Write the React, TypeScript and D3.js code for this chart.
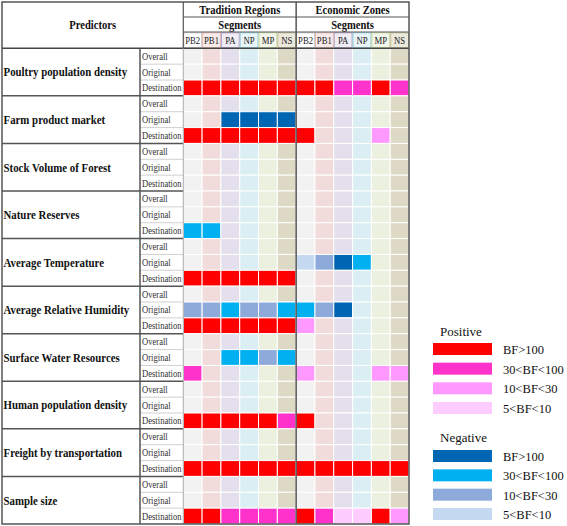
import React from "react";
import * as d3 from "d3";

const predictors = [
  "Poultry population density",
  "Farm product market",
  "Stock Volume of Forest",
  "Nature Reserves",
  "Average Temperature",
  "Average Relative Humidity",
  "Surface Water Resources",
  "Human population density",
  "Freight by transportation",
  "Sample size",
];
const subRows = ["Overall", "Original", "Destination"];
const groups = ["Tradition Regions", "Economic Zones"];
const segments = ["PB2", "PB1", "PA", "NP", "MP", "NS"];

// codes: 4..1 positive (BF>100, 30-100, 10-30, 5-10), -4..-1 negative, 0 none
// each predictor: [overall, original, destination], each 12 values (TR x6, EZ x6)
const z = [0, 0, 0, 0, 0, 0, 0, 0, 0, 0, 0, 0];
const cellData: number[][][] = [
  [z, z, [4, 4, 4, 4, 4, 4, 4, 4, 3, 3, 4, 3]],
  [z, [0, 0, -4, -4, -4, -4, 0, 0, 0, 0, 0, 0], [4, 4, 4, 4, 4, 4, 4, 0, 0, 0, 2, 0]],
  [z, z, z],
  [z, z, [-3, -3, 0, 0, 0, 0, 0, 0, 0, 0, 0, 0]],
  [z, [0, 0, 0, 0, 0, 0, -1, -2, -4, -3, 0, 0], [4, 4, 4, 4, 4, 4, 0, 0, 0, 0, 0, 0]],
  [z, [-2, -2, -3, -2, -2, -3, -3, -2, -4, 0, 0, 0], [4, 4, 4, 4, 4, 4, 2, 0, 0, 0, 0, 0]],
  [z, [0, 0, -3, -3, -2, -3, 0, 0, 0, 0, 0, 0], [3, 0, 0, 0, 0, 0, 2, 0, 0, 0, 2, 2]],
  [z, z, [4, 4, 4, 4, 4, 3, 4, 0, 0, 0, 0, 0]],
  [z, z, [4, 4, 4, 4, 4, 4, 4, 4, 4, 4, 4, 4]],
  [z, z, [4, 4, 3, 3, 3, 3, 4, 3, 1, 1, 4, 2]],
];

const positiveLabels = ["BF>100", "30<BF<100", "10<BF<30", "5<BF<10"];
const negativeLabels = ["BF>100", "30<BF<100", "10<BF<30", "5<BF<10"];

const segBg = ["#f2f2f2", "#f2dcdb", "#e4dfec", "#dbeef4", "#ebf1de", "#ddd9c4"];
const segBorder = ["#c8c8c8", "#e6b8b7", "#b1a0c7", "#92cddc", "#c4d79b", "#c4bd97"];
const posColors: Record<number, string> = { 4: "#ff0000", 3: "#ff33cc", 2: "#ff99ff", 1: "#ffccff" };
const negColors: Record<number, string> = { 4: "#0066b3", 3: "#00b0f0", 2: "#8eaadb", 1: "#c5d9f1" };

const W = 567;
const H = 526;
const L = 2;
const R = 409;
const T = 2;
const hdr1 = 17;
const hdr2 = 32;
const dataTop = 48.3;
const B = 524;
const colSub = 140;
const colData = 183.3;

const serif = "'Liberation Serif', 'Times New Roman', serif";

type STProps = {
  x: number;
  y: number;
  sx: number;
  size: number;
  bold?: boolean;
  anchor?: "start" | "middle" | "end";
  fill?: string;
  children: React.ReactNode;
};

function SText({ x, y, sx, size, bold, anchor = "start", fill = "#111", children }: STProps) {
  return (
    <g transform={`translate(${x},${y}) scale(${sx},1)`}>
      <text x={0} y={0} fontSize={size} fontWeight={bold ? "bold" : "normal"} textAnchor={anchor} fill={fill}>
        {children}
      </text>
    </g>
  );
}

export default function App() {
  const nCols = groups.length * segments.length;
  const x = d3.scaleBand<number>().domain(d3.range(nCols)).range([colData, R]);
  const nRows = predictors.length * subRows.length;
  const y = d3.scaleBand<number>().domain(d3.range(nRows)).range([dataTop, B]);
  const blockH = (B - dataTop) / predictors.length;
  const mid = x(segments.length)!;

  const cells: React.ReactNode[] = [];
  cellData.forEach((block, pi) =>
    block.forEach((row, si) =>
      row.forEach((v, ci) => {
        const r = pi * 3 + si;
        const fill = v > 0 ? posColors[v] : v < 0 ? negColors[-v] : segBg[ci % 6];
        cells.push(
          <rect
            key={`c${pi}-${si}-${ci}`}
            x={x(ci)!}
            y={y(r)!}
            width={x.bandwidth()}
            height={y.bandwidth()}
            fill={fill}
            stroke="#ffffff"
            strokeWidth={1}
          />
        );
      })
    )
  );

  const legendSw = 59;
  const legendX = 433;
  const posY = d3.scaleLinear().domain([0, 3]).range([343, 402]);
  const negY = d3.scaleLinear().domain([0, 3]).range([450, 508]);

  return (
    <svg width={W} height={H} style={{ display: "block", position: "absolute", left: 0, top: 0 }} fontFamily={serif}>
      <rect x={0} y={0} width={W} height={H} fill="#ffffff" />
      {/* header label cells */}
      {d3.range(nCols).map((ci) => (
        <g key={`h${ci}`}>
          <rect
            x={x(ci)! + 0.5}
            y={hdr2 + 0.8}
            width={x.bandwidth() - 1}
            height={dataTop - hdr2 - 1.6}
            fill={ci % 6 === 0 ? "#ffffff" : segBg[ci % 6]}
            fillOpacity={0.6}
            stroke={segBorder[ci % 6]}
            strokeWidth={1}
          />
          <SText x={x(ci)! + x.bandwidth() / 2} y={(hdr2 + dataTop) / 2 + 3.8} sx={0.83} size={10.5} anchor="middle" fill="#222">
            {segments[ci % 6]}
          </SText>
        </g>
      ))}
      {cells}

      {/* header texts */}
      <SText x={(L + colData) / 2} y={29} sx={0.88} size={12} bold anchor="middle">
        Predictors
      </SText>
      {groups.map((g, gi) => {
        const x0 = x(gi * 6)!;
        const x1 = gi === 0 ? mid : R;
        return (
          <g key={g}>
            <SText x={(x0 + x1) / 2} y={13.5} sx={0.88} size={12} bold anchor="middle">
              {g}
            </SText>
            <SText x={(x0 + x1) / 2} y={28.5} sx={0.88} size={12} bold anchor="middle">
              Segments
            </SText>
          </g>
        );
      })}

      {/* predictor labels */}
      {predictors.map((p, pi) => (
        <g key={p}>
          <SText x={L + 1.5} y={dataTop + pi * blockH + blockH / 2 + 4.3} sx={0.92} size={11.8} bold>
            {p}
          </SText>
          {subRows.map((s, si) => (
            <SText
              key={s}
              x={colSub + 2}
              y={y(pi * 3 + si)! + y.bandwidth() / 2 + 3.5}
              sx={0.86}
              size={10}
              fill="#333"
            >
              {s}
            </SText>
          ))}
        </g>
      ))}

      {/* sub row separators */}
      {d3.range(nRows).map((r) =>
        r % 3 !== 0 ? (
          <line key={`sr${r}`} x1={colSub} x2={colData} y1={y(r)!} y2={y(r)!} stroke="#d0d0d0" strokeWidth={1} />
        ) : null
      )}
      {/* block separators */}
      {d3.range(1, predictors.length).map((k) => (
        <line
          key={`bs${k}`}
          x1={L}
          x2={colData}
          y1={dataTop + k * blockH}
          y2={dataTop + k * blockH}
          stroke="#555"
          strokeWidth={1.5}
        />
      ))}
      {/* header lines */}
      <line x1={colData} x2={R} y1={hdr1} y2={hdr1} stroke="#555" strokeWidth={1} />
      <line x1={colData} x2={R} y1={hdr2} y2={hdr2} stroke="#555" strokeWidth={1} />
      <line x1={L} x2={R} y1={dataTop} y2={dataTop} stroke="#444" strokeWidth={1.5} />
      {/* vertical lines */}
      <line x1={colSub} x2={colSub} y1={dataTop} y2={B} stroke="#555" strokeWidth={1.5} />
      <line x1={colData} x2={colData} y1={T} y2={dataTop} stroke="#555" strokeWidth={1.2} />
      <line x1={colData} x2={colData} y1={dataTop} y2={B} stroke="#aaa" strokeWidth={1} />
      <line x1={mid} x2={mid} y1={T} y2={B} stroke="#555" strokeWidth={1.5} />
      <rect x={L} y={T} width={R - L} height={B - T} fill="none" stroke="#555" strokeWidth={1.5} />

      {/* legend */}
      <text x={440} y={336} fontSize={13} fill="#111">
        Positive
      </text>
      {positiveLabels.map((lab, i) => (
        <g key={`p${i}`}>
          <rect x={legendX} y={posY(i)} width={legendSw} height={12} fill={posColors[4 - i]} />
          <text x={503} y={posY(i) + 11} fontSize={12.5} fill="#111">
            {lab}
          </text>
        </g>
      ))}
      <text x={440} y={442} fontSize={13} fill="#111">
        Negative
      </text>
      {negativeLabels.map((lab, i) => (
        <g key={`n${i}`}>
          <rect x={legendX} y={negY(i)} width={legendSw} height={12} fill={negColors[4 - i]} />
          <text x={503} y={negY(i) + 11} fontSize={12.5} fill="#111">
            {lab}
          </text>
        </g>
      ))}
    </svg>
  );
}
